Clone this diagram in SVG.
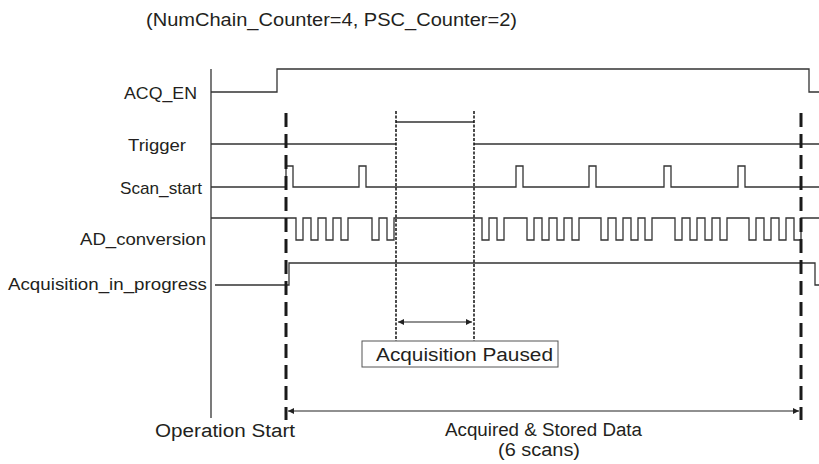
<svg xmlns="http://www.w3.org/2000/svg" width="819" height="464" viewBox="0 0 819 464">
<defs>
<style>
.t{font-family:"Liberation Sans",Arial,sans-serif;fill:#231f20;}
.s{fill:none;stroke:#333;stroke-width:1.3;}
.thick{fill:none;stroke:#1a1a1a;stroke-width:3;stroke-dasharray:14,7;}
.dot{fill:none;stroke:#111;stroke-width:1.5;stroke-dasharray:3,1.5;}
.arr{fill:none;stroke:#222;stroke-width:1.2;}
</style>
<marker id="ah" viewBox="0 0 10 10" refX="10" refY="5" markerWidth="8" markerHeight="6" markerUnits="userSpaceOnUse" orient="auto-start-reverse">
<path d="M0,0 L10,5 L0,10 z" fill="#222"/>
</marker>
</defs>
<rect width="819" height="464" fill="#fff"/>
<text class="t" x="146" y="26" font-size="17.5" textLength="371" lengthAdjust="spacingAndGlyphs">(NumChain_Counter=4, PSC_Counter=2)</text>
<g id="axis"><path class="s" d="M211,69 V418"/></g>
<g id="acq_en">
<text class="t" x="124" y="99" font-size="17" textLength="73" lengthAdjust="spacingAndGlyphs">ACQ_EN</text>
<path class="s" d="M211,92 H277 V69 H809 V92 H819"/>
</g>
<g id="trigger">
<text class="t" x="128" y="151" font-size="17" textLength="58" lengthAdjust="spacingAndGlyphs">Trigger</text>
<path class="s" d="M211,144 H396 M396,122 H474 M474,144 H819"/>
</g>
<g id="scan_start">
<text class="t" x="120" y="194" font-size="17" textLength="82" lengthAdjust="spacingAndGlyphs">Scan_start</text>
<path class="s" d="M211,187 H286 V166 H293 V187 H359 V166 H366 V187 H516 V166 H523 V187 H589 V166 H596 V187 H664 V166 H671 V187 H738 V166 H745 V187 H819"/>
</g>
<g id="ad_conversion">
<text class="t" x="80" y="245" font-size="17" textLength="126" lengthAdjust="spacingAndGlyphs">AD_conversion</text>
<path class="s" d="M211,218 H296 V240 H303 V218 H311 V240 H318 V218 H326 V240 H333 V218 H341 V240 H348 V218 H372 V240 H379 V218 H387 V240 H394 V218 H482 V240 H489 V218 H497 V240 H504 V218 H527 V240 H534 V218 H542 V240 H549 V218 H557 V240 H564 V218 H572 V240 H579 V218 H601 V240 H608 V218 H616 V240 H623 V218 H631 V240 H638 V218 H645 V240 H652 V218 H675 V240 H682 V218 H690 V240 H697 V218 H705 V240 H712 V218 H720 V240 H727 V218 H749 V240 H756 V218 H764 V240 H771 V218 H779 V240 H786 V218 H794 V240 H801 V218 H819"/>
</g>
<g id="acq_in_progress">
<text class="t" x="8" y="290" font-size="17" textLength="199" lengthAdjust="spacingAndGlyphs">Acquisition_in_progress</text>
<path class="s" d="M215,285 H289 V263 H815 V285 H819"/>
</g>
<g id="markers">
<path class="thick" d="M286,113 V420"/>
<path class="thick" d="M801,113 V420"/>
<path class="dot" d="M396,111 V341"/>
<path class="dot" d="M474,111 V341"/>
</g>
<g id="paused_box">
<rect x="362" y="341" width="196" height="26" fill="#fff" stroke="#555" stroke-width="1"/>
<text class="t" x="376" y="361" font-size="18" textLength="177" lengthAdjust="spacingAndGlyphs">Acquisition Paused</text>
</g>
<g id="connectors">
<path class="arr" d="M398,322 H472" marker-start="url(#ah)" marker-end="url(#ah)"/>
<path class="arr" d="M288,411 H799" marker-start="url(#ah)" marker-end="url(#ah)"/>
</g>
<g id="labels">
<text class="t" x="155" y="437" font-size="18" textLength="140" lengthAdjust="spacingAndGlyphs">Operation Start</text>
<text class="t" x="445" y="436" font-size="18" textLength="197" lengthAdjust="spacingAndGlyphs">Acquired &amp; Stored Data</text>
<text class="t" x="498" y="456" font-size="18" textLength="82" lengthAdjust="spacingAndGlyphs">(6 scans)</text>
</g>
</svg>
